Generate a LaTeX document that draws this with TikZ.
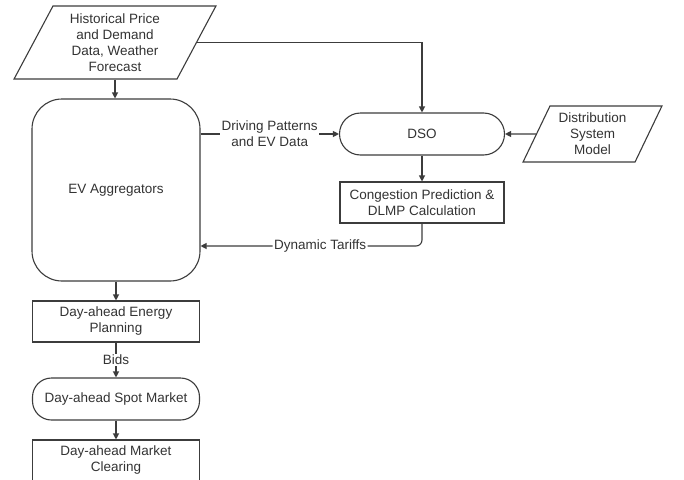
\documentclass[tikz,border=0pt]{standalone}
\usepackage{fontspec}
\setmainfont{Liberation Sans}
\usetikzlibrary{shapes.geometric,arrows.meta}
\definecolor{ln}{HTML}{3C3C3C}
\definecolor{tx}{HTML}{333333}
\begin{document}
\begin{tikzpicture}[x=1pt,y=-1pt,
  every node/.style={font=\fontsize{13.5}{16}\selectfont, text=tx, inner sep=0pt, align=center},
  base/.style={draw=ln, line width=1.1pt},
  boxst/.style={base, rectangle, minimum width=167pt, minimum height=41pt},
  roundst/.style={base, rectangle, rounded corners=21pt, minimum height=42pt},
  para/.style={base, trapezium, trapezium stretches=true},
  arr/.style={draw=ln, line width=1.1pt, -{Triangle[length=6pt,width=6pt]}},
  lbl/.style={fill=white, inner sep=1.5pt}]
\useasboundingbox (0,0) rectangle (684,479);
\clip (0,0) rectangle (684,479);
\fill[white] (0,0) rectangle (684,479);

\node[para, trapezium left angle=64, trapezium right angle=116,
      minimum width=202pt, minimum height=73pt] (hist) at (115,42.5)
      {Historical Price\\and Demand\\Data, Weather\\Forecast};
\node[base, rectangle, rounded corners=30pt, minimum width=168pt, minimum height=182pt] (ev) at (116,190) {EV Aggregators};
\node[roundst, minimum width=165pt] (dso) at (422,134) {DSO};
\node[para, trapezium left angle=63, trapezium right angle=117,
      minimum width=139pt, minimum height=56pt] (dsm) at (592.5,134)
      {Distribution\\System\\Model};
\node[boxst, minimum width=164pt] (cong) at (422,202.5) {Congestion Prediction \&\\DLMP Calculation};
\node[boxst] (plan) at (116,321.5) {Day-ahead Energy\\Planning};
\node[base, rectangle, rounded corners=19pt, minimum width=167pt, minimum height=42pt] (spot) at (116,399) {Day-ahead Spot Market};
\node[boxst] (clear) at (116,460.5) {Day-ahead Market\\Clearing};

\coordinate (tarEnd) at (ev.east |- 0,246);

\draw[arr] (hist.south) -- (hist.south |- ev.north);
\draw[arr] (hist.east) -| (dso.north);
\draw[arr] (ev.east |- dso.west) -- node[lbl] {Driving Patterns\\and EV Data} (dso.west);
\draw[arr] (dsm.west) -- (dso.east);
\draw[arr] (dso.south) -- (cong.north);
\draw[arr, rounded corners=6pt] (cong.south) |- node[lbl, pos=0.73] {Dynamic Tariffs} (tarEnd);
\draw[arr] (ev.south -| plan.north) -- (plan.north);
\draw[arr] (plan.south) -- node[lbl] {Bids} (spot.north);
\draw[arr] (spot.south) -- (clear.north);
\end{tikzpicture}
\end{document}
